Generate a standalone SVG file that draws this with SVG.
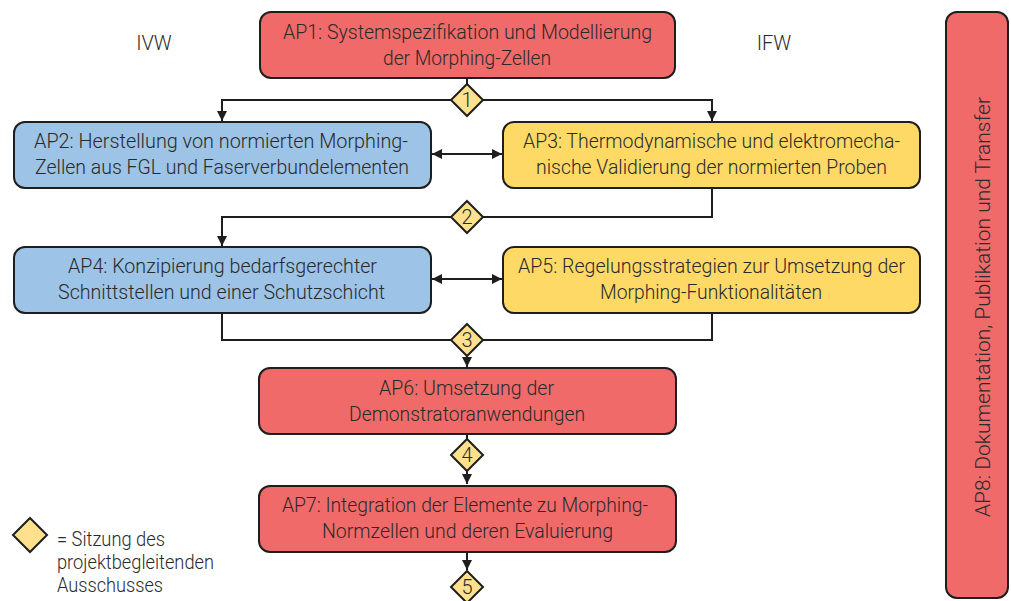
<svg xmlns="http://www.w3.org/2000/svg" width="1011" height="601" viewBox="0 0 1011 601">
  <style>
    .box { stroke: #1e1e1e; stroke-width: 2; }
    .red { fill: #f06a6a; }
    .blue { fill: #9dc3e6; }
    .yellow { fill: #ffd966; }
    .gate { fill: #ffe08c; stroke: #1e1e1e; stroke-width: 2; stroke-linejoin: miter; }
    .t { font-family: Roboto, "Liberation Sans", sans-serif; font-weight: 300; font-size: 21px; fill: #2a2a2a; text-anchor: middle; }
    .num { font-family: Roboto, "Liberation Sans", sans-serif; font-weight: 300; font-size: 20px; fill: #2a2a2a; text-anchor: middle; }
    .lbl { font-family: Roboto, "Liberation Sans", sans-serif; font-weight: 300; font-size: 20px; fill: #2a2a2a; }
    .leg { font-family: Roboto, "Liberation Sans", sans-serif; font-weight: 300; font-size: 20px; fill: #2a2a2a; }
    .wire { fill: none; stroke: #1e1e1e; stroke-width: 2; }
  </style>
  <defs>
    <marker id="arrow" viewBox="0 0 10 10" refX="10" refY="5" markerWidth="5" markerHeight="5" orient="auto-start-reverse" markerUnits="strokeWidth">
      <path d="M0,0 L10,5 L0,10 Z" fill="#1e1e1e"/>
    </marker>
  </defs>

  <rect width="1011" height="601" fill="#ffffff"/>

  <!-- institute column headers -->
  <text class="lbl" x="154" y="50" text-anchor="middle">IVW</text>
  <text class="lbl" x="774" y="50" text-anchor="middle">IFW</text>

  <!-- connectors -->
  <g id="connectors">
    <path class="wire" d="M467,78 L467,84"/>
    <path class="wire" d="M451,100 L222,100 L222,121" marker-end="url(#arrow)"/>
    <path class="wire" d="M483,100 L712,100 L712,121" marker-end="url(#arrow)"/>
    <path class="wire" d="M432,154 L502,154" marker-start="url(#arrow)" marker-end="url(#arrow)"/>
    <path class="wire" d="M712,189 L712,217 L483,217"/>
    <path class="wire" d="M451,217 L222,217 L222,246" marker-end="url(#arrow)"/>
    <path class="wire" d="M432,279 L502,279" marker-start="url(#arrow)" marker-end="url(#arrow)"/>
    <path class="wire" d="M222,313 L222,340 L451,340"/>
    <path class="wire" d="M712,313 L712,340 L483,340"/>
    <path class="wire" d="M467,356 L467,367" marker-end="url(#arrow)"/>
    <path class="wire" d="M467,434 L467,439"/>
    <path class="wire" d="M467,471 L467,484" marker-end="url(#arrow)"/>
    <path class="wire" d="M467,552 L467,570" marker-end="url(#arrow)"/>
  </g>

  <!-- work packages -->
  <g id="ap1">
    <rect class="box red" x="260" y="12" width="415" height="66" rx="11"/>
    <text class="t" x="467.5" y="39" textLength="369" lengthAdjust="spacingAndGlyphs">AP1: Systemspezifikation und Modellierung</text>
    <text class="t" x="467" y="65" textLength="168" lengthAdjust="spacingAndGlyphs">der Morphing-Zellen</text>
  </g>
  <g id="ap2">
    <rect class="box blue" x="14" y="122" width="417" height="66" rx="11"/>
    <text class="t" x="221" y="148" textLength="374" lengthAdjust="spacingAndGlyphs">AP2: Herstellung von normierten Morphing-</text>
    <text class="t" x="222" y="174" textLength="374" lengthAdjust="spacingAndGlyphs">Zellen aus FGL und Faserverbundelementen</text>
  </g>
  <g id="ap3">
    <rect class="box yellow" x="503" y="122" width="417" height="66" rx="11"/>
    <text class="t" x="711.5" y="148" textLength="377" lengthAdjust="spacingAndGlyphs">AP3: Thermodynamische und elektromecha-</text>
    <text class="t" x="711.5" y="174" textLength="351" lengthAdjust="spacingAndGlyphs">nische Validierung der normierten Proben</text>
  </g>
  <g id="ap4">
    <rect class="box blue" x="14" y="247" width="417" height="66" rx="11"/>
    <text class="t" x="222.5" y="273" textLength="309" lengthAdjust="spacingAndGlyphs">AP4: Konzipierung bedarfsgerechter</text>
    <text class="t" x="221.5" y="299" textLength="327" lengthAdjust="spacingAndGlyphs">Schnittstellen und einer Schutzschicht</text>
  </g>
  <g id="ap5">
    <rect class="box yellow" x="503" y="247" width="417" height="66" rx="11"/>
    <text class="t" x="711.5" y="273" textLength="387" lengthAdjust="spacingAndGlyphs">AP5: Regelungsstrategien zur Umsetzung der</text>
    <text class="t" x="711" y="299" textLength="222" lengthAdjust="spacingAndGlyphs">Morphing-Funktionalitäten</text>
  </g>
  <g id="ap6">
    <rect class="box red" x="259" y="368" width="417" height="66" rx="11"/>
    <text class="t" x="466.5" y="395" textLength="175" lengthAdjust="spacingAndGlyphs">AP6: Umsetzung der</text>
    <text class="t" x="467" y="421" textLength="236" lengthAdjust="spacingAndGlyphs">Demonstratoranwendungen</text>
  </g>
  <g id="ap7">
    <rect class="box red" x="259" y="486" width="417" height="66" rx="11"/>
    <text class="t" x="465" y="512" textLength="366" lengthAdjust="spacingAndGlyphs">AP7: Integration der Elemente zu Morphing-</text>
    <text class="t" x="467.5" y="538" textLength="291" lengthAdjust="spacingAndGlyphs">Normzellen und deren Evaluierung</text>
  </g>
  <g id="ap8">
    <rect class="box red" x="946" y="12" width="62" height="586" rx="11"/>
    <text class="t" transform="translate(990,307) rotate(-90)" x="0" y="0" textLength="420" lengthAdjust="spacingAndGlyphs">AP8: Dokumentation, Publikation und Transfer</text>
  </g>

  <!-- committee meetings -->
  <g id="gate1">
    <polygon class="gate" points="467,84 483,100 467,116 451,100"/>
    <text class="num" x="467" y="107">1</text>
  </g>
  <g id="gate2">
    <polygon class="gate" points="467,201 483,217 467,233 451,217"/>
    <text class="num" x="467" y="224">2</text>
  </g>
  <g id="gate3">
    <polygon class="gate" points="467,324 483,340 467,356 451,340"/>
    <text class="num" x="467" y="347">3</text>
  </g>
  <g id="gate4">
    <polygon class="gate" points="467,439 483,455 467,471 451,455"/>
    <text class="num" x="467" y="462">4</text>
  </g>
  <g id="gate5">
    <polygon class="gate" points="467,571 483,587 467,603 451,587"/>
    <text class="num" x="467" y="594">5</text>
  </g>

  <!-- legend -->
  <g id="legend">
    <polygon class="gate" points="30,518 47,535 30,552 13,535"/>
    <text class="leg" x="57" y="546" textLength="108" lengthAdjust="spacingAndGlyphs">= Sitzung des</text>
    <text class="leg" x="57" y="569" textLength="157" lengthAdjust="spacingAndGlyphs">projektbegleitenden</text>
    <text class="leg" x="57" y="592" textLength="106" lengthAdjust="spacingAndGlyphs">Ausschusses</text>
  </g>
</svg>
